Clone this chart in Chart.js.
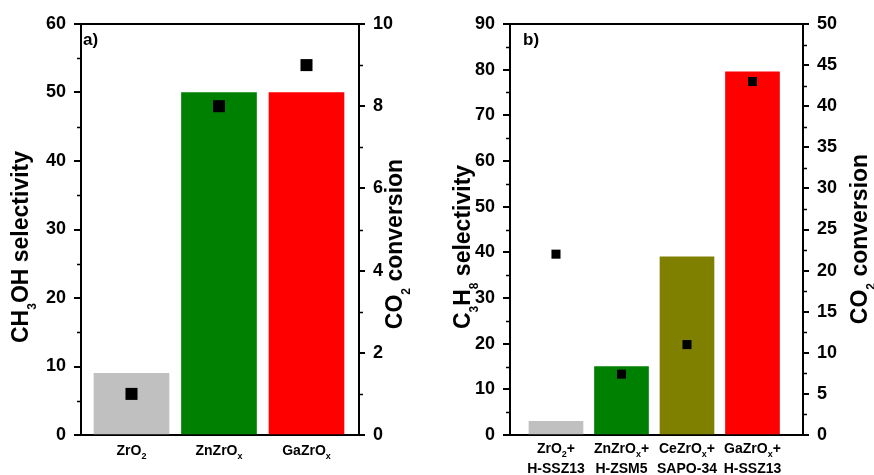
<!DOCTYPE html>
<html lang="en">
<head>
<meta charset="UTF-8">
<title>CH3OH and C3H8 selectivity</title>
<script src="https://cdn.jsdelivr.net/npm/chart.js"></script>
<style>
  body { margin: 0; background: #fff; }
  #wrap { position: relative; width: 874px; height: 475px; }
  #wrap canvas { position: absolute; top: 0; }
  #chartA { left: 0; }
  #chartB { left: 437px; }
</style>
</head>
<body>
<div id="wrap">
  <canvas id="chartA" width="437" height="475"></canvas>
  <canvas id="chartB" width="437" height="475"></canvas>
</div>
<script>
// panel a) - methanol
const catsA = ['ZrO_2', 'ZnZrO_x', 'GaZrO_x'];
const selA = [9, 50, 50];      // CH3OH selectivity (left axis)
const convA = [1, 8, 9];       // CO2 conversion (right axis)
const colorsA = ['#c0c0c0', '#008000', '#ff0000'];

// panel b) - propane
const catsB = [['ZrO_2+', 'H-SSZ13'], ['ZnZrO_x+', 'H-ZSM5'], ['CeZrO_x+', 'SAPO-34'], ['GaZrO_x+', 'H-SSZ13']];
const selB = [3, 15, 39, 79.5];
const convB = [22, 7.4, 11, 43];
const colorsB = ['#c0c0c0', '#008000', '#808000', '#ff0000'];

const fontFam = '"Liberation Sans", Arial, Helvetica, sans-serif';
Chart.defaults.font.family = fontFam;
Chart.defaults.color = '#000';

// "_" marks the next character as subscript
function parseRich(s) {
    const out = [];
    let buf = '';
    for (let i = 0; i < s.length; i++) {
        if (s[i] === '_' && i + 1 < s.length) {
            if (buf) { out.push({t: buf, sub: false}); buf = ''; }
            out.push({t: s[i + 1], sub: true});
            i++;
        } else {
            buf += s[i];
        }
    }
    if (buf) out.push({t: buf, sub: false});
    return out;
}

function drawRich(ctx, s, cx, baseY, size, subSize, subDy) {
    const segs = parseRich(s);
    let w = 0;
    segs.forEach(g => {
        ctx.font = `bold ${g.sub ? subSize : size}px ${fontFam}`;
        w += ctx.measureText(g.t).width;
    });
    let x = cx - w / 2;
    ctx.textAlign = 'left';
    ctx.textBaseline = 'alphabetic';
    segs.forEach(g => {
        ctx.font = `bold ${g.sub ? subSize : size}px ${fontFam}`;
        ctx.fillText(g.t, x, baseY + (g.sub ? subDy : 0));
        x += ctx.measureText(g.t).width;
    });
}

// titles with subscripts, category labels, minor ticks, top frame line
const decoPlugin = {
    id: 'deco',
    afterDraw(chart, args, o) {
        const ctx = chart.ctx;
        const area = chart.chartArea;
        ctx.save();
        ctx.fillStyle = '#000';
        ctx.strokeStyle = '#000';

        // top frame
        ctx.lineWidth = 2;
        ctx.beginPath();
        ctx.moveTo(area.left - 1, area.top);
        ctx.lineTo(area.right + 1, area.top);
        ctx.stroke();

        // minor ticks
        ctx.lineWidth = 1.5;
        const minor = (scale, step, major, side) => {
            for (let v = scale.min; v <= scale.max + 1e-9; v += step) {
                if (Math.abs(v / major - Math.round(v / major)) < 1e-6) continue;
                const y = Math.round(scale.getPixelForValue(v)) + 0.5;
                ctx.beginPath();
                if (side === 'left') { ctx.moveTo(area.left - 4, y); ctx.lineTo(area.left, y); }
                else { ctx.moveTo(area.right, y); ctx.lineTo(area.right + 4, y); }
                ctx.stroke();
            }
        };
        minor(chart.scales.y, o.minorY, o.majorY, 'left');
        minor(chart.scales.y2, o.minorY2, o.majorY2, 'right');

        // axis titles, rotated
        [[o.leftTitle, o.leftX, o.leftCy], [o.rightTitle, o.rightX, o.rightCy]].forEach(([t, x, cy]) => {
            ctx.save();
            ctx.translate(x, cy);
            ctx.rotate(-Math.PI / 2);
            drawRich(ctx, t, 0, 0, 23, 12, 8);
            ctx.restore();
        });

        // category labels
        const xs = chart.scales.x;
        o.cats.forEach((c, i) => {
            const lines = Array.isArray(c) ? c : [c];
            const px = xs.getPixelForValue(i);
            lines.forEach((ln, k) => drawRich(ctx, ln, px, o.catY[k], 14, 9, 4));
        });

        // panel letter
        ctx.font = `bold 17px ${fontFam}`;
        ctx.textAlign = 'left';
        ctx.fillText(o.label, o.labelX, o.labelY);
        ctx.restore();
    }
};

function makeChart(id, cats, sel, conv, colors, opt) {
    const bars = sel.map((v, i) => ({x: i, y: v}));
    const pts = conv.map((v, i) => ({x: i, y: v}));
    return new Chart(document.getElementById(id), {
        type: 'bar',
        data: {
            datasets: [
                {
                    type: 'line',
                    data: pts,
                    yAxisID: 'y2',
                    showLine: false,
                    pointStyle: 'rect',
                    pointRadius: opt.markR,
                    pointBackgroundColor: '#000',
                    pointBorderWidth: 0,
                    order: 0
                },
                {
                    data: bars,
                    yAxisID: 'y',
                    backgroundColor: colors,
                    borderWidth: 0,
                    barThickness: opt.barW,
                    maxBarThickness: opt.barW,
                    order: 1
                }
            ]
        },
        options: {
            responsive: false,
            animation: false,
            layout: { padding: { top: 24 } },
            scales: {
                x: {
                    type: 'linear',
                    offset: false,
                    min: opt.xMin,
                    max: opt.xMax,
                    ticks: { display: false },
                    grid: { display: false, offset: false },
                    border: { display: true, color: '#000', width: 2 },
                    afterFit(s) { s.height = 40; }
                },
                y: {
                    position: 'left',
                    min: 0,
                    max: opt.yMax,
                    ticks: { stepSize: opt.majorY, padding: 8, font: { size: 18, weight: 'bold' } },
                    grid: { drawOnChartArea: false, drawTicks: true, tickLength: 7, color: '#000', lineWidth: 2 },
                    border: { display: true, color: '#000', width: 2 },
                    afterFit(s) { s.width = opt.leftW; }
                },
                y2: {
                    position: 'right',
                    min: 0,
                    max: opt.y2Max,
                    ticks: { stepSize: opt.majorY2, padding: 8, font: { size: 18, weight: 'bold' } },
                    grid: { drawOnChartArea: false, drawTicks: true, tickLength: 6, color: '#000', lineWidth: 2 },
                    border: { display: true, color: '#000', width: 2 },
                    afterFit(s) { s.width = opt.rightW; }
                }
            },
            plugins: {
                legend: { display: false },
                tooltip: { enabled: false },
                deco: {
                    cats: cats,
                    catY: opt.catY,
                    leftTitle: opt.leftTitle, leftX: opt.leftX, leftCy: opt.leftCy,
                    rightTitle: 'CO_2 conversion', rightX: opt.rightX, rightCy: opt.rightCy,
                    minorY: opt.majorY / 2, majorY: opt.majorY,
                    minorY2: opt.majorY2 / 2, majorY2: opt.majorY2,
                    label: opt.label, labelX: opt.labelX, labelY: 45
                }
            }
        },
        plugins: [decoPlugin]
    });
}

makeChart('chartA', catsA, selA, convA, colorsA, {
    xMin: -0.577, xMax: 2.6, barW: 75, markR: 8.5,
    yMax: 60, majorY: 10, y2Max: 10, majorY2: 2,
    leftW: 81, rightW: 78,
    catY: [455],
    leftTitle: 'CH_3OH selectivity', leftX: 28, leftCy: 247,
    rightX: 402, rightCy: 244,
    label: 'a)', labelX: 83
});

makeChart('chartB', catsB, selB, convB, colorsB, {
    xMin: -0.702, xMax: 3.771, barW: 54, markR: 6.4,
    yMax: 90, majorY: 10, y2Max: 50, majorY2: 5,
    leftW: 73, rightW: 71,
    catY: [453, 473],
    leftTitle: 'C_3H_8 selectivity', leftX: 33, leftCy: 247,
    rightX: 430, rightCy: 239,
    label: 'b)', labelX: 86
});
</script>
</body>
</html>
